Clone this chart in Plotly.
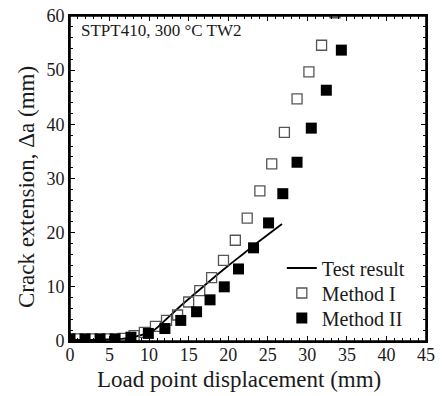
import plotly.graph_objects as go

# Test result curve
test_x = [0, 3, 5, 6.5, 7.5, 8.5, 9.5, 10.5, 12, 14, 16, 18, 20, 22, 24, 26.8]
test_y = [0.2, 0.2, 0.3, 0.4, 0.6, 0.9, 1.3, 1.9, 3.8, 6.5, 9.0, 11.5, 13.9, 16.2, 18.5, 21.6]

# Method I (open squares)
m1_x = [1.0, 2.8, 4.7, 6.7, 8.1, 9.4, 10.8, 12.2, 13.6, 15.0, 16.4, 17.9, 19.4,
        20.9, 22.4, 24.0, 25.5, 27.1, 28.7, 30.2, 31.8, 33.5]
m1_y = [0.4, 0.4, 0.4, 0.5, 1.0, 1.6, 2.7, 3.8, 4.8, 7.2, 9.3, 11.7, 14.9,
        18.6, 22.7, 27.7, 32.7, 38.5, 44.7, 49.7, 54.6, 60.6]

# Method II (filled squares)
m2_x = [0.0, 1.9, 3.8, 5.7, 7.7, 9.9, 12.0, 14.0, 16.0, 17.7, 19.5, 21.3, 23.2, 25.1,
        26.9, 28.7, 30.5, 32.4, 34.3]
m2_y = [0.4, 0.4, 0.4, 0.4, 0.7, 1.4, 2.3, 3.8, 5.4, 7.6, 10.0, 13.3, 17.2, 21.8,
        27.2, 33.0, 39.3, 46.3, 53.7]

x_ticks = [0, 5, 10, 15, 20, 25, 30, 35, 40, 45]
y_ticks = [0, 10, 20, 30, 40, 50, 60]

FONT = "Liberation Serif"
TXT = "#1a1a1a"

fig = go.Figure()
fig.add_trace(go.Scatter(x=test_x, y=test_y, mode="lines", name="Test result",
                         line=dict(color="black", width=1.8), line_shape="spline",
                         legend="legend"))
fig.add_trace(go.Scatter(x=m1_x, y=m1_y, mode="markers", name="Method I",
                         marker=dict(symbol="square-open", size=10, color="#555555",
                                     line=dict(width=1.3, color="#555555")),
                         legend="legend2"))
fig.add_trace(go.Scatter(x=m2_x, y=m2_y, mode="markers", name="Method II",
                         marker=dict(symbol="square", size=11, color="black"),
                         legend="legend3"))

tick_common = dict(ticks="inside", ticklen=5, tickwidth=1.2, tickcolor="black",
                   showgrid=False, zeroline=False)
axis_common = dict(showline=True, linecolor="black", linewidth=1.6, mirror="ticks",
                   tickfont=dict(family=FONT, size=18, color=TXT), **tick_common)

fig.update_xaxes(range=[0, 45], tickvals=x_ticks,
                 ticktext=[str(v) for v in x_ticks], ticklabelstandoff=-3,
                 minor=dict(dtick=1, ticks="inside", ticklen=3, tickcolor="black", tickwidth=1),
                 **axis_common)
fig.update_yaxes(range=[0, 60], tickvals=y_ticks,
                 ticktext=[str(v) for v in y_ticks],
                 minor=dict(dtick=2, ticks="inside", ticklen=3, tickcolor="black", tickwidth=1),
                 **axis_common)

# top axis (ticks only), mirrors the bottom one
fig.update_layout(xaxis2=dict(overlaying="x", side="top", matches="x", range=[0, 45],
                              tickvals=x_ticks, showticklabels=False, showline=False,
                              minor=dict(dtick=1, ticks="inside", ticklen=3,
                                         tickcolor="black", tickwidth=1),
                              **tick_common))
fig.add_trace(go.Scatter(x=[], y=[], xaxis="x2", yaxis="y", showlegend=False,
                         hoverinfo="skip"))

# plot frame
fig.add_shape(type="rect", xref="x domain", yref="y domain", x0=0, x1=1, y0=0, y1=1,
              line=dict(color="black", width=1.6), layer="above")

# axis titles
fig.add_annotation(x=0.4747, y=-0.117, xref="paper", yref="paper", xanchor="center", yanchor="middle",
                   text="Load point displacement (mm)", showarrow=False,
                   font=dict(family=FONT, size=23, color=TXT))
fig.add_annotation(x=-0.1236, y=0.4738, xref="paper", yref="paper", xanchor="center", yanchor="middle",
                   text="Crack extension, Δa (mm)", showarrow=False, textangle=-90,
                   font=dict(family=FONT, size=23, color=TXT))

fig.add_annotation(x=0.025, y=0.99, xref="paper", yref="paper", xanchor="left", yanchor="top",
                   text="STPT410, 300 °C TW2", showarrow=False,
                   font=dict(family=FONT, size=17, color=TXT))

leg_common = dict(x=0.595, xanchor="left", yanchor="middle",
                  font=dict(family=FONT, size=20, color=TXT),
                  bgcolor="rgba(0,0,0,0)", itemwidth=30)

fig.update_layout(
    width=444, height=396,
    margin=dict(l=70, r=18, t=16, b=55, autoexpand=False),
    paper_bgcolor="white", plot_bgcolor="white",
    legend=dict(y=0.2246, **leg_common),
    legend2=dict(y=0.1477, **leg_common),
    legend3=dict(y=0.0708, **leg_common),
    showlegend=True,
)

fig.write_html("out.html", config={"displayModeBar": False},
               post_script="document.body.style.margin='0px';")
